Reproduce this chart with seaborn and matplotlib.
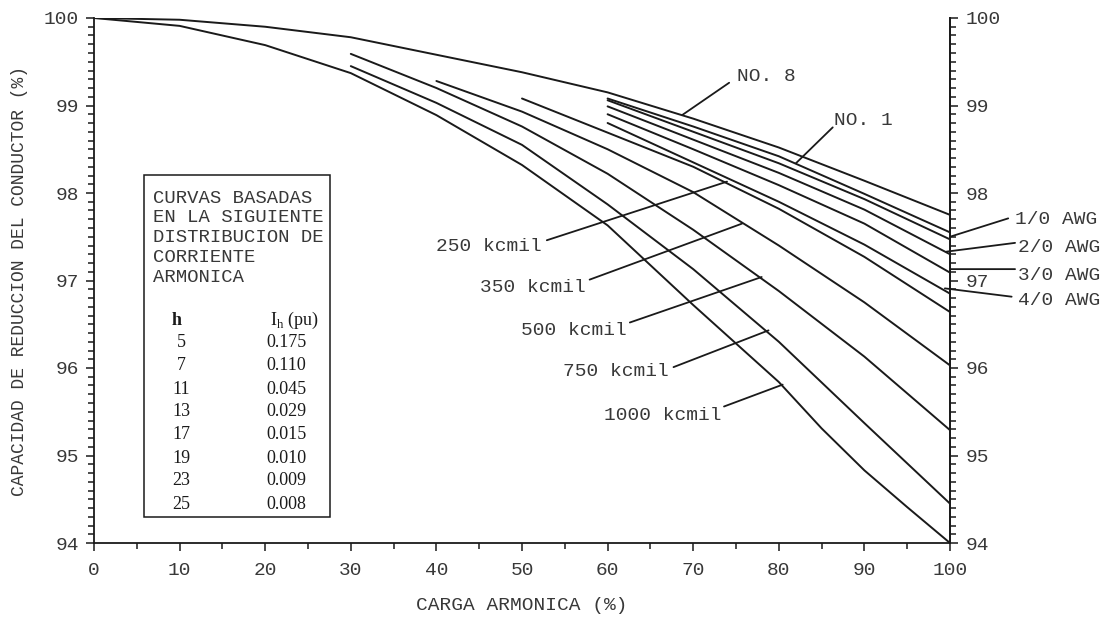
import matplotlib
matplotlib.use("Agg")
import matplotlib.pyplot as plt
import numpy as np
import pandas as pd
import seaborn as sns
from matplotlib.ticker import MultipleLocator
from matplotlib.patches import Rectangle

# ---------------- data ----------------
x_full = [0, 10, 20, 30, 40, 50, 60, 70, 80, 90, 100]
no8 = [100.0, 99.98, 99.9, 99.78, 99.58, 99.38, 99.15, 98.85, 98.52, 98.14, 97.75]

x_60 = [60, 70, 80, 90, 100]
no1 = [99.08, 98.76, 98.42, 97.99, 97.55]
awg1_0 = [99.06, 98.70, 98.34, 97.93, 97.47]
awg2_0 = [98.99, 98.61, 98.23, 97.81, 97.30]
awg3_0 = [98.90, 98.50, 98.09, 97.65, 97.09]
awg4_0 = [98.80, 98.35, 97.90, 97.41, 96.85]

x_50 = [50, 60, 70, 80, 90, 100]
kcmil250 = [99.08, 98.69, 98.30, 97.82, 97.27, 96.64]

x_40 = [40, 50, 60, 70, 80, 90, 100]
kcmil350 = [99.28, 98.93, 98.50, 98.01, 97.40, 96.75, 96.03]

x_30 = [30, 40, 50, 60, 70, 80, 90, 100]
kcmil500 = [99.59, 99.20, 98.76, 98.22, 97.58, 96.88, 96.13, 95.29]
kcmil750 = [99.45, 99.03, 98.55, 97.87, 97.13, 96.30, 95.37, 94.45]

x_1000 = [0, 10, 20, 30, 40, 50, 60, 70, 80, 85, 90, 95, 100]
kcmil1000 = [100.0, 99.91, 99.69, 99.37, 98.89, 98.32, 97.63, 96.72, 95.84, 95.31, 94.83, 94.41, 94.0]

curve_names = ["NO. 8", "NO. 1", "1/0 AWG", "2/0 AWG", "3/0 AWG", "4/0 AWG",
               "250 kcmil", "350 kcmil", "500 kcmil", "750 kcmil", "1000 kcmil"]
curve_x = [x_full, x_60, x_60, x_60, x_60, x_60, x_50, x_40, x_30, x_30, x_1000]
curve_y = [no8, no1, awg1_0, awg2_0, awg3_0, awg4_0, kcmil250, kcmil350,
           kcmil500, kcmil750, kcmil1000]

box_lines = ["CURVAS BASADAS", "EN LA SIGUIENTE", "DISTRIBUCION DE",
             "CORRIENTE", "ARMONICA"]
h_orders = ["5", "7", "11", "13", "17", "19", "23", "25"]
ih_pu = ["0.175", "0.110", "0.045", "0.029", "0.015", "0.010", "0.009", "0.008"]

x_label = "CARGA ARMONICA (%)"
y_label = "CAPACIDAD DE REDUCCION DEL CONDUCTOR (%)"

# ---------------- build long table ----------------
rows = []
for name, xs, ys in zip(curve_names, curve_x, curve_y):
    for xv, yv in zip(xs, ys):
        rows.append({"cable": name, "carga": xv, "capacidad": yv})
df = pd.DataFrame(rows)

# ---------------- style ----------------
sns.set_theme(style="ticks")
MONO = ["Liberation Mono", "DejaVu Sans Mono"]
SERIF = ["Liberation Serif", "DejaVu Serif"]
plt.rcParams["font.family"] = MONO
INK = "#1a1a1a"
TXT = "#383838"
FS = 14
FS_BOX = 13.6
FS_TAB = 13

fig = plt.figure(figsize=(11.06, 6.2), dpi=100)
ax = fig.add_axes([94 / 1106, 77 / 620, 856 / 1106, 525 / 620])

sns.lineplot(data=df, x="carga", y="capacidad", units="cable", estimator=None,
             color=INK, linewidth=1.4, legend=False, ax=ax, sort=True)

ax.set_xlim(0, 100)
ax.set_ylim(94, 100)
ax.xaxis.set_major_locator(MultipleLocator(10))
ax.xaxis.set_minor_locator(MultipleLocator(5))
ax.yaxis.set_major_locator(MultipleLocator(1))
ax.yaxis.set_minor_locator(MultipleLocator(0.1))

for s in ["left", "bottom", "right"]:
    ax.spines[s].set_visible(True)
    ax.spines[s].set_color(INK)
    ax.spines[s].set_linewidth(1.3)
ax.spines["top"].set_visible(False)

ax.tick_params(axis="both", which="both", direction="out", color=INK,
               labelcolor=TXT, labelsize=FS, width=1.1)
ax.tick_params(axis="both", which="major", length=6)
ax.tick_params(axis="both", which="minor", length=4.5)
ax.tick_params(axis="x", pad=8)
ax.tick_params(axis="y", pad=5)

ax2 = ax.twinx()
ax2.set_ylim(94, 100)
ax2.yaxis.set_major_locator(MultipleLocator(1))
ax2.yaxis.set_minor_locator(MultipleLocator(0.1))
for s in ["left", "top", "bottom"]:
    ax2.spines[s].set_visible(False)
ax2.spines["right"].set_color(INK)
ax2.spines["right"].set_linewidth(1.3)
ax2.tick_params(axis="y", which="both", direction="out", color=INK,
                labelcolor=TXT, labelsize=FS, width=1.1, pad=5)
ax2.tick_params(axis="y", which="major", length=6)
ax2.tick_params(axis="y", which="minor", length=4.5)
ax2.grid(False)
ax.grid(False)

ax.set_xlabel(x_label, fontsize=FS, color=TXT, labelpad=13)
ax.set_ylabel(y_label, fontsize=13, color=TXT, labelpad=11)

# ---------------- curve labels with leader lines ----------------
lead = dict(arrowstyle="-", color=INK, lw=1.3, shrinkA=0, shrinkB=0)

def label(txt, tx, ty, x0, y0, x1, y1, ha="left"):
    ax.text(tx, ty, txt, fontsize=FS, color=TXT, ha=ha, va="center",
            clip_on=False)
    ax.annotate("", xy=(x1, y1), xytext=(x0, y0), arrowprops=lead,
                annotation_clip=False)

label("NO. 8", 75.1, 99.33, 74.2, 99.26, 68.7, 98.89)
label("NO. 1", 86.4, 98.83, 86.3, 98.75, 82.0, 98.34)
label("1/0 AWG", 107.6, 97.70, 106.8, 97.71, 100.0, 97.50)
label("2/0 AWG", 107.9, 97.375, 107.6, 97.43, 99.6, 97.33)
label("3/0 AWG", 107.9, 97.06, 107.6, 97.13, 100.0, 97.13)
label("4/0 AWG", 107.9, 96.77, 107.2, 96.815, 99.4, 96.91)
label("250 kcmil", 52.3, 97.39, 52.9, 97.46, 73.95, 98.13, ha="right")
label("350 kcmil", 57.4, 96.92, 57.9, 97.01, 75.7, 97.65, ha="right")
label("500 kcmil", 62.2, 96.43, 62.6, 96.52, 78.0, 97.04, ha="right")
label("750 kcmil", 67.1, 95.96, 67.7, 96.01, 78.8, 96.43, ha="right")
label("1000 kcmil", 73.3, 95.46, 73.6, 95.56, 80.45, 95.81, ha="right")

# ---------------- note box with harmonic table ----------------
ax.add_patch(Rectangle((5.84, 94.30), 27.57 - 5.84, 98.21 - 94.30,
                       fill=False, edgecolor=INK, lw=1.1, zorder=3))
box_y = [97.94, 97.715, 97.49, 97.26, 97.03]
for t, yy in zip(box_lines, box_y):
    ax.text(6.9, yy, t, fontsize=FS_BOX, color=TXT, ha="left", va="center")

ax.text(9.7, 96.54, "h", fontsize=FS_TAB, family=SERIF, weight="bold",
        color=INK, ha="center", va="center")
ax.text(23.4, 96.54, r"I$_\mathregular{h}$ (pu)", fontsize=FS_TAB, family=SERIF,
        color=INK, ha="center", va="center")
row_y = [96.29, 96.025, 95.76, 95.50, 95.235, 94.97, 94.71, 94.445]
for hv, iv, yy in zip(h_orders, ih_pu, row_y):
    ax.text(10.2, yy, hv, fontsize=FS_TAB, family=SERIF, color=INK,
            ha="center", va="center")
    ax.text(22.5, yy, iv, fontsize=FS_TAB, family=SERIF, color=INK,
            ha="center", va="center")

fig.savefig("out.png", dpi=100)
